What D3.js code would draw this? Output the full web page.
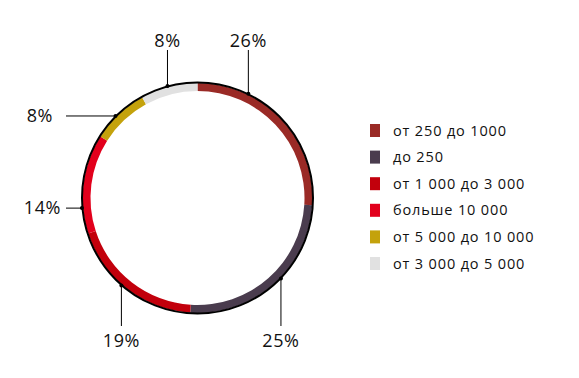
<!DOCTYPE html>
<html>
<head>
<meta charset="utf-8">
<script src="https://cdn.jsdelivr.net/npm/d3@7"></script>
<style>
  body { margin: 0; background: #fff; }
  text { font-family: "Open Sans", "Noto Sans", sans-serif; fill: #111; }
</style>
</head>
<body>
<script>
// categories and shares, in drawing order (clockwise from the top)
var categories = ["от 250 до 1000", "до 250", "от 1 000 до 3 000", "больше 10 000", "от 5 000 до 10 000", "от 3 000 до 5 000"]
var shares = [26, 25, 19, 14, 8, 8]
var colors = ["#9a2a26", "#4a3c4e", "#c2000c", "#e2001c", "#c4a20c", "#e1e1e1"]

// where the leader line touches the ring (degrees) and which way it goes
var labelAngles = [26, 134, 221, 265, 315, 345]
var labelDirs = ["up", "down", "down", "left", "left", "up"]

function main() {
    var svg = d3.select("body").append("svg").attr("width", 579).attr("height", 378)

    var cx = 197.5, cy = 198, outerR = 115, innerR = 107
    var g = svg.append("g").attr("transform", `translate(${cx}, ${cy})`)

    var pie = d3.pie().sort(null).value(function(d){ return d.v })
    var data = categories.map(function(c, i){ return {c: c, v: shares[i], col: colors[i]} })
    var arc = d3.arc().innerRadius(innerR).outerRadius(outerR)

    g.selectAll(".slice").data(pie(data)).enter().append("path")
        .attr("class", "slice")
        .attr("d", arc)
        .attr("fill", function(d){ return d.data.col })

    // black outer rim
    g.append("circle").attr("r", outerR + 0.5)
        .attr("fill", "none").attr("stroke", "#000").attr("stroke-width", 2)

    // leader lines and labels
    data.forEach(function(d, i) {
        var a = labelAngles[i] * Math.PI / 180
        var px = Math.sin(a) * (outerR + 1), py = -Math.cos(a) * (outerR + 1)
        var ex, ey, tx, ty, anchor
        if (labelDirs[i] === "up") {
            ex = px; ey = 50 - cy; tx = px; ty = 47 - cy; anchor = "middle"
        } else if (labelDirs[i] === "down") {
            ex = px; ey = 326 - cy; tx = px; ty = 347 - cy; anchor = "middle"
        } else {
            ex = 66 - cx; ey = py; tx = (labelAngles[i] > 300 ? 53 : 61) - cx; ty = py + 6; anchor = "end"
        }
        g.append("line").attr("x1", px).attr("y1", py).attr("x2", ex).attr("y2", ey)
            .attr("stroke", "#000").attr("stroke-width", 1)
        g.append("circle").attr("cx", px).attr("cy", py).attr("r", 2).attr("fill", "#000")
        g.append("text").attr("x", tx).attr("y", ty).attr("text-anchor", anchor)
            .attr("font-size", "18px").style("letter-spacing", "0.6px").text(d.v + "%")
    })

    // legend
    var legend = svg.append("g").attr("transform", "translate(370, 124)")
    var rows = legend.selectAll(".row").data(data).enter().append("g")
        .attr("class", "row")
        .attr("transform", function(d, i){ return `translate(0, ${i * 26.6})` })
    rows.append("rect").attr("width", 10).attr("height", 13)
        .attr("fill", function(d){ return d.col })
    rows.append("text").attr("x", 23).attr("y", 11.5).attr("font-size", "14.5px")
        .style("letter-spacing", "0.85px")
        .text(function(d){ return d.c })
}
main()
</script>
</body>
</html>
